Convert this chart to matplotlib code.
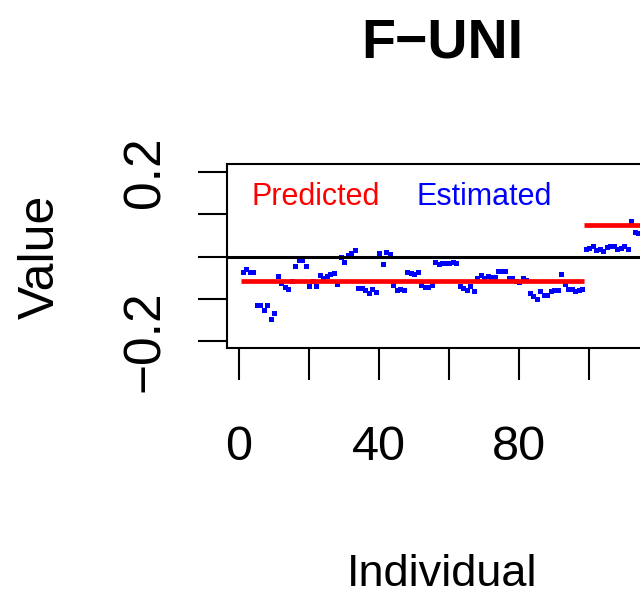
# Recreate the F-UNI predicted vs estimated value plot.

import numpy as np
import matplotlib.pyplot as plt

# --------------------------- DATA ---------------------------

# Individuals shown in the panel (1..114), split into two groups.
group1_ids = np.arange(1, 99)
group2_ids = np.arange(99, 115)

# Estimated values (blue points).
group1_est = [-0.036, -0.029, -0.036, -0.036, -0.114, -0.114, -0.127, -0.114, -0.147, -0.133,
              -0.046, -0.063, -0.071, -0.077, -0.058, -0.022, -0.008, -0.008, -0.022, -0.069,
              -0.058, -0.069, -0.044, -0.050, -0.045, -0.041, -0.039, -0.065, -0.001, -0.013,
              0.004, 0.009, 0.015, -0.075, -0.075, -0.079, -0.087, -0.077, -0.084, 0.008,
              -0.018, 0.011, 0.006, -0.066, -0.079, -0.077, -0.079, -0.037, -0.039, -0.042,
              -0.037, -0.068, -0.072, -0.071, -0.066, -0.013, -0.017, -0.015, -0.015, -0.014,
              -0.013, -0.015, -0.070, -0.073, -0.078, -0.070, -0.081, -0.051, -0.043, -0.050,
              -0.046, -0.049, -0.048, -0.035, -0.034, -0.034, -0.051, -0.051, -0.058, -0.059,
              -0.050, -0.055, -0.087, -0.093, -0.099, -0.080, -0.090, -0.090, -0.082, -0.079,
              -0.079, -0.041, -0.064, -0.077, -0.077, -0.082, -0.079, -0.077]
group2_est = [0.017, 0.021, 0.024, 0.016, 0.019, 0.014, 0.022, 0.025, 0.024, 0.017,
              0.020, 0.025, 0.019, 0.085, 0.058, 0.055]

# Predicted values (red lines), one per group.
group1_pred = -0.057
group2_pred = 0.075

# Axis ticks.
x_ticks = [0, 20, 40, 60, 80, 100]
x_labels = ['0', '', '40', '', '80', '']
y_ticks = [-0.2, -0.1, 0.0, 0.1, 0.2]
y_labels = ['\u22120.2', '', '', '', '0.2']

# --------------------------- PLOT ---------------------------

font = ['Liberation Sans', 'DejaVu Sans']

fig = plt.figure(figsize=(6.4, 5.96), dpi=100)
ax = fig.add_axes([0.3547, 0.4156, 0.6719, 0.3087])

# Estimated points.
ax.plot(group1_ids, group1_est, 's', color='#0000ff', ms=3.6, mew=0, zorder=2)
ax.plot(group2_ids, group2_est, 's', color='#0000ff', ms=3.6, mew=0, zorder=2)

# Predicted levels.
ax.plot([0.5, 98.5], [group1_pred] * 2, color='#ff0000', lw=3.4, solid_capstyle='butt', zorder=3)
ax.plot([98.5, 125], [group2_pred] * 2, color='#ff0000', lw=3.4, solid_capstyle='butt', zorder=3)

# Zero reference line.
ax.axhline(0, color='black', lw=2.2, zorder=4)

ax.set_xlim(-3.45, 119.3)
ax.set_ylim(-0.2165, 0.218)

for s in ax.spines.values():
    s.set_linewidth(1.5)

ax.set_xticks(x_ticks)
ax.set_xticklabels(x_labels, fontsize=35, family=font)
ax.set_yticks(y_ticks)
ax.set_yticklabels(y_labels, fontsize=37, family=font, rotation=90, va='center')
ax.tick_params(axis='x', length=23, width=1.5, pad=32)
ax.tick_params(axis='y', length=21, width=1.5, pad=20)

# In-panel labels.
ax.text(22, 0.122, 'Predicted', color='#ff0000', fontsize=22, family=font, ha='center', va='baseline')
ax.text(70, 0.122, 'Estimated', color='#0000ff', fontsize=22, family=font, ha='center', va='baseline')

# Title and axis labels.
fig.text(0.6906, 0.9039, 'F\u2212UNI', fontsize=40, fontweight='bold', family=font, ha='center', va='baseline')
fig.text(0.6906, 0.002, 'Individual', fontsize=32.5, family=font, ha='center', va='bottom')
fig.text(0.064, 0.5695, 'Value', fontsize=36, family=font, rotation=90, ha='center', va='center')

fig.savefig('out.png', dpi=100)
